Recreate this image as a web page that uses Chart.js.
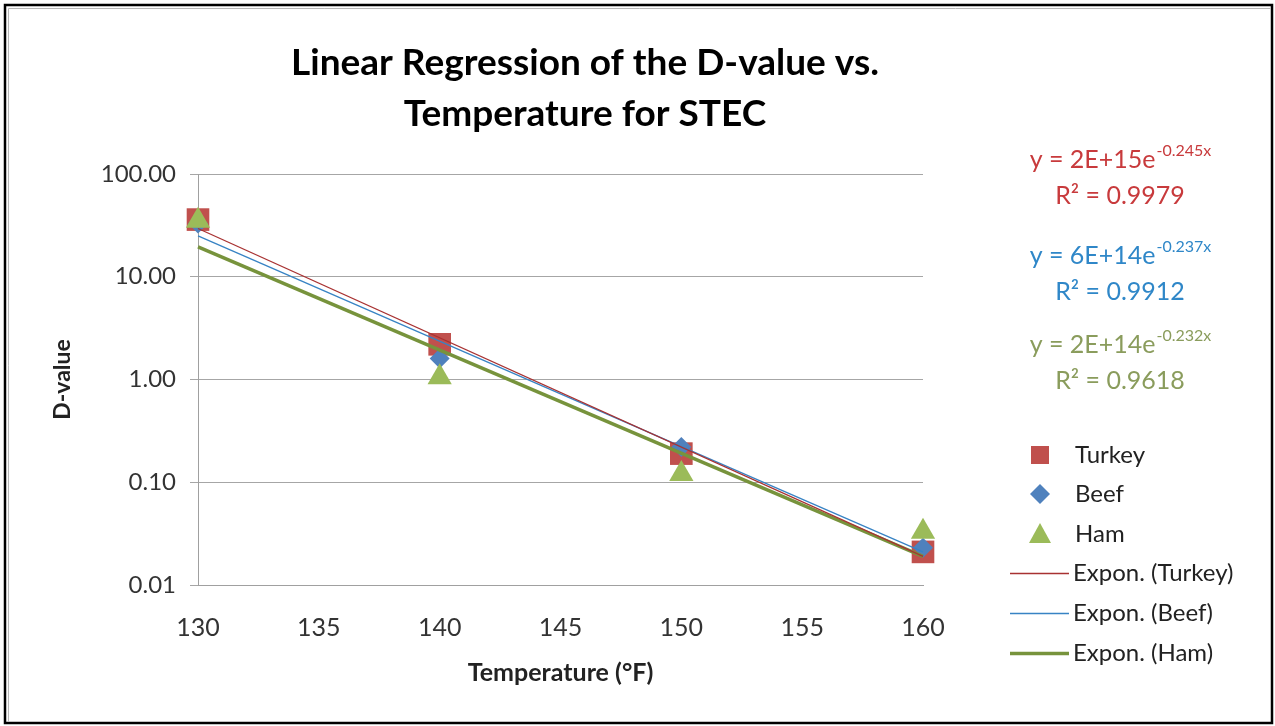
<!DOCTYPE html>
<html>
<head>
<meta charset="utf-8">
<title>Linear Regression of the D-value vs. Temperature for STEC</title>
<script src="https://cdn.jsdelivr.net/npm/chart.js@4.4.1/dist/chart.umd.min.js"></script>
<style>
  html, body { margin: 0; padding: 0; background: #fff; }
  #wrap { width: 1275px; height: 726px; position: relative; }
</style>
</head>
<body>
<div id="wrap"><canvas id="dChart" width="1275" height="726"></canvas></div>
<script>
// data
const temps = [130, 140, 150, 160];
const turkeyD = [36, 2.2, 0.19, 0.021];
const beefD = [33, 1.6, 0.22, 0.023];
const hamD = [35, 1.05, 0.12, 0.033];

// trendline ends (at 130 and 160)
const fitTemps = [130, 160];
const turkeyFit = [29.5, 0.019];
const beefFit = [25, 0.021];
const hamFit = [19.5, 0.019];

const yTickValues = [0.01, 0.1, 1, 10, 100];
const yTickLabels = ['0.01', '0.10', '1.00', '10.00', '100.00'];

const seriesNames = ['Turkey', 'Beef', 'Ham'];
const fitNames = ['Expon. (Turkey)', 'Expon. (Beef)', 'Expon. (Ham)'];
const equations = [
  ['y = 2E+15e', '-0.245x', 'R\u00b2 = 0.9979'],
  ['y = 6E+14e', '-0.237x', 'R\u00b2 = 0.9912'],
  ['y = 2E+14e', '-0.232x', 'R\u00b2 = 0.9618']
];

const FONT = 'Lato, "Open Sans", sans-serif';
const RED = '#C0504D', BLUE = '#4F81BD', GREEN = '#9BBB59';
const eqColors = ['#C83A3C', '#2F87C8', '#8A9C5C'];

function pts(xs, ys) {
  return xs.map((x, i) => ({ x: x, y: ys[i] }));
}

// title, equations, legend and frame
const extras = {
  id: 'extras',
  beforeDraw(chart) {
    const ctx = chart.ctx;
    ctx.save();
    ctx.fillStyle = '#fff';
    ctx.fillRect(0, 0, chart.width, chart.height);
    ctx.restore();
  },
  afterDraw(chart) {
    const ctx = chart.ctx;
    ctx.save();
    // frame
    ctx.strokeStyle = '#000';
    ctx.lineWidth = 2.5;
    ctx.strokeRect(5, 5, 1267, 718);
    ctx.strokeStyle = '#b8b8b8';
    ctx.lineWidth = 1;
    ctx.beginPath();
    ctx.moveTo(8.5, 722); ctx.lineTo(8.5, 8.5); ctx.lineTo(1271, 8.5);
    ctx.stroke();

    // title
    ctx.fillStyle = '#000';
    ctx.font = 'bold 37px ' + FONT;
    ctx.textAlign = 'center';
    ctx.textBaseline = 'middle';
    ctx.fillText('Linear Regression of the D-value vs.', 585, 63);
    ctx.fillText('Temperature for STEC', 585, 114);

    // trendline equations
    const eqY = [160, 256, 345];
    equations.forEach((eq, i) => {
      ctx.fillStyle = eqColors[i];
      ctx.font = '25px ' + FONT;
      const w1 = ctx.measureText(eq[0]).width;
      ctx.font = '16px ' + FONT;
      const w2 = ctx.measureText(eq[1]).width;
      const x0 = 1120 - (w1 + w2) / 2;
      ctx.textAlign = 'left';
      ctx.font = '25px ' + FONT;
      ctx.fillText(eq[0], x0, eqY[i]);
      ctx.font = '16px ' + FONT;
      ctx.fillText(eq[1], x0 + w1 + 1, eqY[i] - 9);
      ctx.font = '25px ' + FONT;
      ctx.textAlign = 'center';
      ctx.fillText(eq[2], 1120, eqY[i] + 36);
    });

    // legend
    ctx.textAlign = 'left';
    ctx.font = '24px ' + FONT;
    const legY = [455, 494, 534, 573, 613, 653];
    const colors = [RED, BLUE, GREEN];
    seriesNames.forEach((name, i) => {
      const y = legY[i];
      ctx.fillStyle = colors[i];
      ctx.beginPath();
      if (i === 0) {
        ctx.rect(1031, y - 9, 18, 18);
      } else if (i === 1) {
        ctx.moveTo(1040, y - 10); ctx.lineTo(1050, y); ctx.lineTo(1040, y + 10); ctx.lineTo(1030, y);
      } else {
        ctx.moveTo(1040, y - 11); ctx.lineTo(1051, y + 9); ctx.lineTo(1029, y + 9);
      }
      ctx.closePath();
      ctx.fill();
      ctx.fillStyle = '#222';
      ctx.fillText(name, 1075, y);
    });
    const fitCols = ['#A83232', '#3783C4', '#77933C'];
    const fitW = [1.5, 1.5, 3.5];
    fitNames.forEach((name, i) => {
      const y = Math.round(legY[i + 3]) + 0.5;
      ctx.strokeStyle = fitCols[i];
      ctx.lineWidth = fitW[i];
      ctx.beginPath();
      ctx.moveTo(1010, y); ctx.lineTo(1069, y);
      ctx.stroke();
      ctx.fillStyle = '#222';
      ctx.fillText(name, 1073, legY[i + 3]);
    });
    ctx.restore();
  }
};

new Chart(document.getElementById('dChart'), {
  type: 'scatter',
  data: {
    datasets: [
      { label: fitNames[0], data: pts(fitTemps, turkeyFit), showLine: true, borderColor: '#A83232',
        borderWidth: 1.3, pointRadius: 0, order: 0, clip: false },
      { label: fitNames[1], data: pts(fitTemps, beefFit), showLine: true, borderColor: '#3783C4',
        borderWidth: 1.3, pointRadius: 0, order: 0, clip: false },
      { label: fitNames[2], data: pts(fitTemps, hamFit), showLine: true, borderColor: '#77933C',
        borderWidth: 3.5, pointRadius: 0, order: 0, clip: false },
      { label: seriesNames[2], data: pts(temps, hamD), pointStyle: 'triangle', pointRadius: 14,
        backgroundColor: GREEN, borderColor: GREEN, borderWidth: 0, order: 1, clip: false },
      { label: seriesNames[1], data: pts(temps, beefD), pointStyle: 'rectRot', pointRadius: 10,
        backgroundColor: BLUE, borderColor: BLUE, borderWidth: 0, order: 2, clip: false },
      { label: seriesNames[0], data: pts(temps, turkeyD), pointStyle: 'rect', pointRadius: 16,
        backgroundColor: RED, borderColor: RED, borderWidth: 0, order: 3, clip: false }
    ]
  },
  options: {
    responsive: false,
    animation: false,
    layout: { padding: { left: 0, right: 352, top: 174, bottom: 0 } },
    plugins: {
      legend: { display: false },
      title: { display: false },
      tooltip: { enabled: false }
    },
    scales: {
      x: {
        type: 'linear',
        min: 130, max: 160,
        grid: { display: false, drawTicks: false, tickLength: 0 },
        border: { display: true, color: '#a0a0a0', width: 1 },
        ticks: { stepSize: 5, padding: 28, color: '#333', font: { family: FONT, size: 25 } },
        title: { display: true, text: 'Temperature (\u00b0F)', color: '#222',
          font: { family: FONT, size: 25, weight: 'bold' }, padding: { top: 0, bottom: 38 } },
        afterFit(scale) { scale.height = 141; }
      },
      y: {
        type: 'logarithmic',
        min: 0.01, max: 100,
        grid: { color: '#a6a6a6', lineWidth: 1, drawTicks: true, tickLength: 8 },
        border: { display: true, color: '#a0a0a0', width: 1 },
        afterBuildTicks(scale) {
          scale.ticks = yTickValues.map(v => ({ value: v }));
        },
        ticks: {
          padding: 14, color: '#333', font: { family: FONT, size: 24 },
          callback(value) {
            const i = yTickValues.findIndex(v => Math.abs(v - value) < v * 1e-6);
            return i >= 0 ? yTickLabels[i] : '';
          }
        },
        title: { display: true, text: 'D-value', color: '#222',
          font: { family: FONT, size: 23, weight: 'bold' }, padding: { top: 49, bottom: 0 } },
        afterFit(scale) { scale.width = 198; }
      }
    }
  },
  plugins: [extras]
});
</script>
</body>
</html>
